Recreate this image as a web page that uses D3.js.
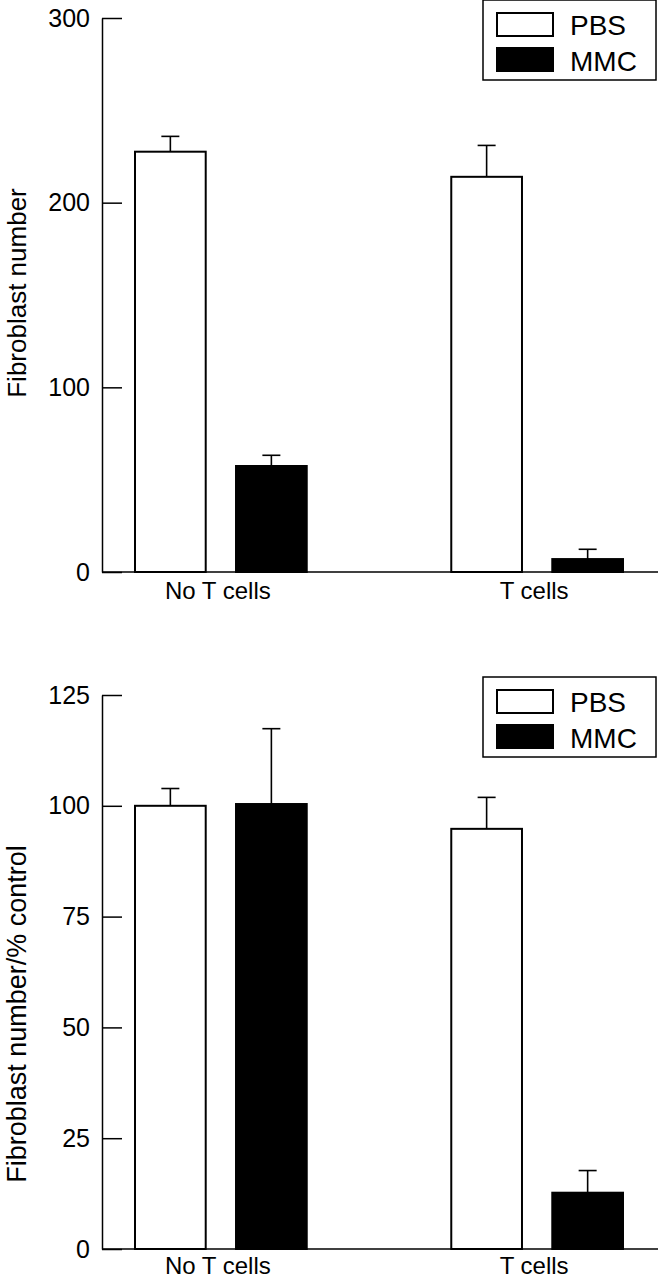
<!DOCTYPE html>
<html>
<head>
    <meta charset="utf-8">
    <title>Fibroblast number</title>
    <style>
        body { margin: 0; background: #fff; }
        svg { display: block; }
        text { font-family: "Liberation Sans", Arial, sans-serif; fill: #000; }
        .axis path, .axis line { stroke: #000; stroke-width: 1.5px; }
        .axis text { font-size: 25px; }
    </style>
</head>
<body>
<script src="https://cdnjs.cloudflare.com/ajax/libs/d3/7.8.5/d3.min.js"></script>
<script>
    // Groups and series
    const categories = ["No T cells", "T cells"];
    const seriesNames = ["PBS", "MMC"];
    const seriesFill = ["#fff", "#000"];

    // Upper panel: fibroblast number (mean and error)
    const countPBS = [227.6, 214];
    const countMMC = [57.4, 7.0];
    const countPBSErr = [8.3, 17];
    const countMMCErr = [5.8, 5.3];
    const countTicks = [0, 100, 200, 300];

    // Lower panel: fibroblast number as % of control
    const pctPBS = [100, 94.8];
    const pctMMC = [100.4, 12.7];
    const pctPBSErr = [3.9, 7.1];
    const pctMMCErr = [17, 5.0];
    const pctTicks = [0, 25, 50, 75, 100, 125];

    const W = 658, H = 1280;

    const svg = d3.select("body")
        .append("svg")
        .attr("width", W)
        .attr("height", H);

    // Draws one bar panel with its own axis, legend and labels
    function drawPanel(p) {
        const g = svg.append("g");

        const y = d3.scaleLinear()
            .domain([0, p.max])
            .range([p.bottom, p.top]);

        const x0 = d3.scaleBand()
            .domain(categories)
            .range([135, 623])
            .paddingInner(0.457)
            .paddingOuter(0);

        const x1 = d3.scaleBand()
            .domain(seriesNames)
            .range([0, x0.bandwidth()])
            .paddingInner(0.3);

        const rows = [];
        categories.forEach((c, i) => {
            seriesNames.forEach((s, j) => {
                rows.push({cat: c, series: s, fill: seriesFill[j],
                    value: p.values[j][i], err: p.errors[j][i]});
            });
        });

        // Baseline running to the right edge
        g.append("line")
            .attr("x1", 102).attr("x2", W)
            .attr("y1", y(0)).attr("y2", y(0))
            .attr("stroke", "#000")
            .attr("stroke-width", 1.5);

        // Y axis with inward ticks
        g.append("g")
            .attr("class", "axis")
            .attr("transform", "translate(102,0)")
            .call(d3.axisLeft(y)
                .tickValues(p.ticks)
                .tickFormat(d3.format("d"))
                .tickSizeInner(-20)
                .tickSizeOuter(0)
                .tickPadding(12));

        // Error bars
        const eb = g.selectAll("g.err")
            .data(rows)
            .enter().append("g")
            .attr("class", "err")
            .attr("stroke", "#000")
            .attr("stroke-width", 1.6);

        eb.append("line")
            .attr("x1", d => x0(d.cat) + x1(d.series) + x1.bandwidth() / 2)
            .attr("x2", d => x0(d.cat) + x1(d.series) + x1.bandwidth() / 2)
            .attr("y1", d => y(d.value))
            .attr("y2", d => y(d.value + d.err));

        eb.append("line")
            .attr("x1", d => x0(d.cat) + x1(d.series) + x1.bandwidth() / 2 - 9)
            .attr("x2", d => x0(d.cat) + x1(d.series) + x1.bandwidth() / 2 + 9)
            .attr("y1", d => y(d.value + d.err))
            .attr("y2", d => y(d.value + d.err));

        // Bars
        g.selectAll("rect.bar")
            .data(rows)
            .enter().append("rect")
            .attr("class", "bar")
            .attr("x", d => x0(d.cat) + x1(d.series))
            .attr("y", d => y(d.value))
            .attr("width", x1.bandwidth())
            .attr("height", d => y(0) - y(d.value))
            .attr("fill", d => d.fill)
            .attr("stroke", "#000")
            .attr("stroke-width", 2);

        // Category labels
        g.selectAll("text.cat")
            .data(categories)
            .enter().append("text")
            .attr("class", "cat")
            .attr("x", d => x0(d) + x0.bandwidth() / 2 - 3)
            .attr("y", y(0) + p.labelGap)
            .attr("text-anchor", "middle")
            .style("font-size", "24px")
            .text(d => d);

        // Y title
        g.append("text")
            .attr("transform", `translate(26,${p.titleY}) rotate(-90)`)
            .attr("text-anchor", "middle")
            .style("font-size", p.titleSize + "px")
            .text(p.title);

        // Legend
        const lg = g.append("g")
            .attr("transform", `translate(483,${p.top - 18})`);

        lg.append("rect")
            .attr("x", 0).attr("y", 0)
            .attr("width", 173).attr("height", 80)
            .attr("fill", "#fff")
            .attr("stroke", "#000")
            .attr("stroke-width", 1.5);

        seriesNames.forEach((s, j) => {
            lg.append("rect")
                .attr("x", 14).attr("y", 13 + j * 35)
                .attr("width", 56).attr("height", 23)
                .attr("fill", seriesFill[j])
                .attr("stroke", "#000")
                .attr("stroke-width", 2);
            lg.append("text")
                .attr("x", 87).attr("y", 35 + j * 36)
                .style("font-size", "28px")
                .text(s);
        });
    }

    drawPanel({
        top: 18, bottom: 572, max: 300,
        ticks: countTicks,
        values: [countPBS, countMMC],
        errors: [countPBSErr, countMMCErr],
        title: "Fibroblast number",
        titleY: 293, titleSize: 26,
        labelGap: 27
    });

    drawPanel({
        top: 695, bottom: 1249, max: 125,
        ticks: pctTicks,
        values: [pctPBS, pctMMC],
        errors: [pctPBSErr, pctMMCErr],
        title: "Fibroblast number/% control",
        titleY: 1014, titleSize: 27,
        labelGap: 25
    });
</script>
</body>
</html>
